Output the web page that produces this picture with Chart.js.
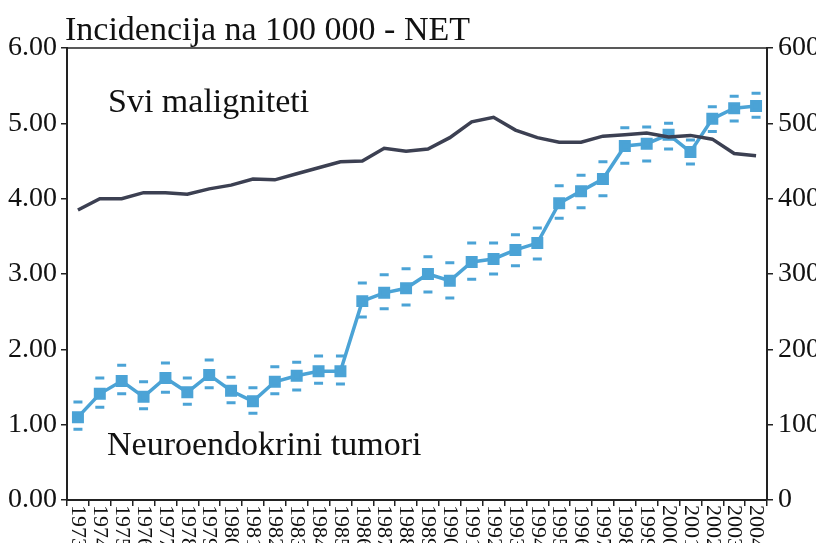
<!DOCTYPE html>
<html>
<head>
<meta charset="utf-8">
<script src="https://cdn.jsdelivr.net/npm/chart.js@4.4.1/dist/chart.umd.min.js"></script>
<style>
  html, body { margin: 0; padding: 0; background: #fff; }
  #wrap { width: 816px; height: 543px; }
</style>
</head>
<body>
<div id="wrap"><canvas id="chart"></canvas></div>
<script>
// incidence per 100 000, 1973-2004
const years = ['1973', '1974', '1975', '1976', '1977', '1978', '1979', '1980',
  '1981', '1982', '1983', '1984', '1985', '1986', '1987', '1988', '1989', '1990',
  '1991', '1992', '1993', '1994', '1995', '1996', '1997', '1998', '1999', '2000',
  '2001', '2002', '2003', '2004'];
// NET (left axis)
const netRate = [1.10, 1.41, 1.58, 1.37, 1.62, 1.43, 1.66, 1.45, 1.31, 1.57, 1.65,
  1.71, 1.71, 2.64, 2.75, 2.81, 3.00, 2.91, 3.16, 3.20, 3.32, 3.41, 3.94, 4.10,
  4.26, 4.70, 4.73, 4.85, 4.62, 5.06, 5.20, 5.23];
const netHigh = [1.30, 1.62, 1.79, 1.57, 1.82, 1.62, 1.86, 1.63, 1.49, 1.77, 1.83,
  1.91, 1.91, 2.88, 2.99, 3.07, 3.23, 3.15, 3.41, 3.41, 3.52, 3.61, 4.17, 4.31,
  4.49, 4.94, 4.95, 5.00, 4.78, 5.22, 5.36, 5.40];
const netLow = [0.94, 1.23, 1.41, 1.21, 1.43, 1.27, 1.49, 1.29, 1.15, 1.41, 1.46,
  1.55, 1.54, 2.43, 2.54, 2.59, 2.76, 2.68, 2.93, 3.00, 3.11, 3.20, 3.74, 3.88,
  4.04, 4.47, 4.50, 4.66, 4.46, 4.89, 5.03, 5.08];
// all malignancies (right axis)
const allRate = [385, 400, 400, 408, 408, 406, 413, 418, 426, 425, 433, 441, 449,
  450, 467, 463, 466, 481, 502, 508, 491, 481, 475, 475, 483, 485, 487, 482, 484,
  479, 460, 457];

const titleText = 'Incidencija na 100 000 - NET';
const allLabel = 'Svi maligniteti';
const netLabel = 'Neuroendokrini tumori';

const blue = '#4ba3d6';
const dark = '#3c4052';
const axisColor = '#222';
const serif = '"Liberation Serif", "Times New Roman", serif';

// texts + clockwise year labels (chart.js only rotates the other way)
const textPlugin = {
  id: 'texts',
  afterDraw(chart) {
    const ctx = chart.ctx;
    const area = chart.chartArea;
    const x = chart.scales.x, y = chart.scales.y, y1 = chart.scales.y1;
    ctx.save();
    ctx.strokeStyle = axisColor;
    ctx.lineWidth = 1.5;
    ctx.beginPath();
    ctx.moveTo(area.left, area.top);
    ctx.lineTo(area.right, area.top);
    ctx.stroke();

    ctx.fillStyle = '#111';
    ctx.font = '34px ' + serif;
    ctx.textAlign = 'left';
    ctx.textBaseline = 'alphabetic';
    ctx.fillText(titleText, 65, 40);
    ctx.fillText(allLabel, 108, 112);
    ctx.fillText(netLabel, 107, 455);

    ctx.font = '28px ' + serif;
    ctx.textBaseline = 'middle';
    ctx.textAlign = 'right';
    y.ticks.forEach((t, i) => ctx.fillText(t.value.toFixed(2), area.left - 10, y.getPixelForTick(i)));
    ctx.textAlign = 'left';
    y1.ticks.forEach((t, i) => ctx.fillText(String(t.value), area.right + 11, y1.getPixelForTick(i)));

    ctx.font = '22px ' + serif;
    years.forEach((yr, i) => {
      ctx.save();
      ctx.translate(x.getPixelForValue(i), area.bottom + 5);
      ctx.rotate(Math.PI / 2);
      ctx.fillText(yr, 0, 0);
      ctx.restore();
    });
    ctx.restore();
  }
};

new Chart(document.getElementById('chart'), {
  type: 'line',
  data: {
    labels: years,
    datasets: [
      {
        data: allRate, yAxisID: 'y1', borderColor: dark, borderWidth: 3.5,
        pointRadius: 0, fill: false
      },
      {
        data: netRate, yAxisID: 'y', borderColor: blue, backgroundColor: blue,
        borderWidth: 3.5, pointStyle: 'rect', pointRadius: 6, fill: false
      },
      {
        data: netHigh, yAxisID: 'y', showLine: false, borderColor: blue,
        borderWidth: 3, pointStyle: 'line', pointRadius: 4.5
      },
      {
        data: netLow, yAxisID: 'y', showLine: false, borderColor: blue,
        borderWidth: 3, pointStyle: 'line', pointRadius: 4.5
      }
    ]
  },
  options: {
    responsive: true,
    maintainAspectRatio: false,
    animation: false,
    layout: { padding: { top: 48, left: 0, right: 0, bottom: 0 } },
    plugins: { legend: { display: false }, tooltip: { enabled: false } },
    scales: {
      x: {
        offset: true,
        grid: { offset: true, drawOnChartArea: false, color: axisColor, tickLength: 6, lineWidth: 1.5 },
        border: { color: axisColor, width: 2 },
        ticks: { display: false },
        afterFit(s) { s.height = 43; }
      },
      y: {
        position: 'left', min: 0, max: 6,
        ticks: { display: false, stepSize: 1 },
        grid: { drawOnChartArea: false, color: axisColor, tickLength: 6, lineWidth: 1.5 },
        border: { color: axisColor, width: 2 },
        afterFit(s) { s.width = 67; }
      },
      y1: {
        position: 'right', min: 0, max: 600,
        ticks: { display: false, stepSize: 100 },
        grid: { drawOnChartArea: false, color: axisColor, tickLength: 6, lineWidth: 1.5 },
        border: { color: axisColor, width: 2 },
        afterFit(s) { s.width = 49; }
      }
    }
  },
  plugins: [textPlugin]
});
</script>
</body>
</html>
